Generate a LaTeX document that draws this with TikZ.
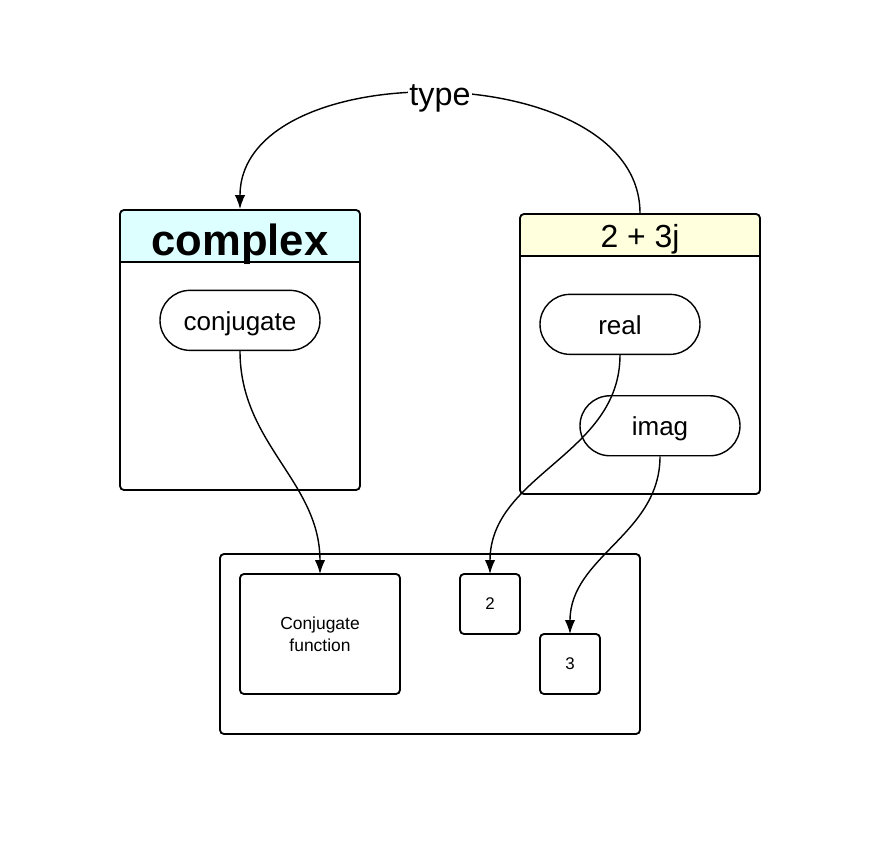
\documentclass[tikz,border=0pt]{standalone}
\usepackage{fontspec}
\setmainfont{Liberation Sans}
\usetikzlibrary{arrows.meta,positioning,shapes.misc}
\definecolor{headcyan}{RGB}{221,255,255}
\definecolor{headyellow}{RGB}{255,255,221}

\begin{document}
\begin{tikzpicture}[x=0.25mm,y=-0.25mm,
  >={Latex[length=3.5mm,width=2.6mm]},
  every node/.style={align=center,inner sep=0pt},
  classbody/.style 2 args={draw,line width=1.3pt,rounded corners=1mm,
    minimum width=60mm,minimum height=70mm,
    path picture={
      \fill[#1] (path picture bounding box.north west)
        rectangle ([yshift=-#2]path picture bounding box.north east);
      \draw[line width=1.3pt] ([yshift=-#2]path picture bounding box.north west)
        -- ([yshift=-#2]path picture bounding box.north east);}},
  method/.style={rounded rectangle,draw,line width=1pt,minimum width=40mm,
    minimum height=15mm,text height=14.2pt,text depth=0pt,
    font=\fontsize{18.5}{22}\selectfont},
  frame/.style={draw,line width=1.3pt,rounded corners=1mm,outer sep=0pt},
  cell/.style={frame,minimum width=15mm,minimum height=15mm,
    font=\fontsize{12}{14}\selectfont},
  flow/.style={->,line width=1pt}]
  \useasboundingbox (0,0) rectangle (882,845);

  % the class and its instance
  \node[classbody={headcyan}{13mm}] (complex) at (240,350) {};
  \node[below=0mm of complex.north,minimum height=13mm,
    text height=29pt,text depth=0pt,
    font=\bfseries\fontsize{31}{34}\selectfont] (complexname) {complex};
  \node[method,below=7mm of complexname] (conjugate) {conjugate};

  \node[classbody={headyellow}{10.5mm}] (value) at (640,354) {};
  \node[below=0mm of value.north,minimum height=10.5mm,
    text height=18.4pt,text depth=0pt,
    font=\fontsize{22.7}{26}\selectfont] (valuename) {2 + 3j};
  \node[method,below=9.5mm of valuename,xshift=-5mm] (real) {real};
  \node[method,below=10mm of real,xshift=10mm] (imag) {imag};

  % memory
  \node[frame,minimum width=105mm,minimum height=45mm] (memory) at (430,644) {};
  \node[frame,minimum width=40mm,minimum height=30mm,
    font=\fontsize{12.4}{15.4}\selectfont,
    below right=5mm and 5mm of memory.north west] (conjfn)
    {Conjugate\\function};
  \node[cell,below right=0mm and 15mm of conjfn.north east] (two) {2};
  \node[cell,below right=0mm and 5mm of two] (three) {3};

  \draw[flow] (value.north) to[out=90,in=90]
    node[fill=white,inner xsep=1pt,text height=17.3pt,text depth=0pt,
      font=\fontsize{23}{26}\selectfont]{type}
    (complex.north);
  \draw[flow] (conjugate.south) to[out=-90,in=90] (conjfn.north);
  \draw[flow] (real.south) to[out=-90,in=90] (two.north);
  \draw[flow] (imag.south) to[out=-90,in=90] (three.north);
\end{tikzpicture}
\end{document}
